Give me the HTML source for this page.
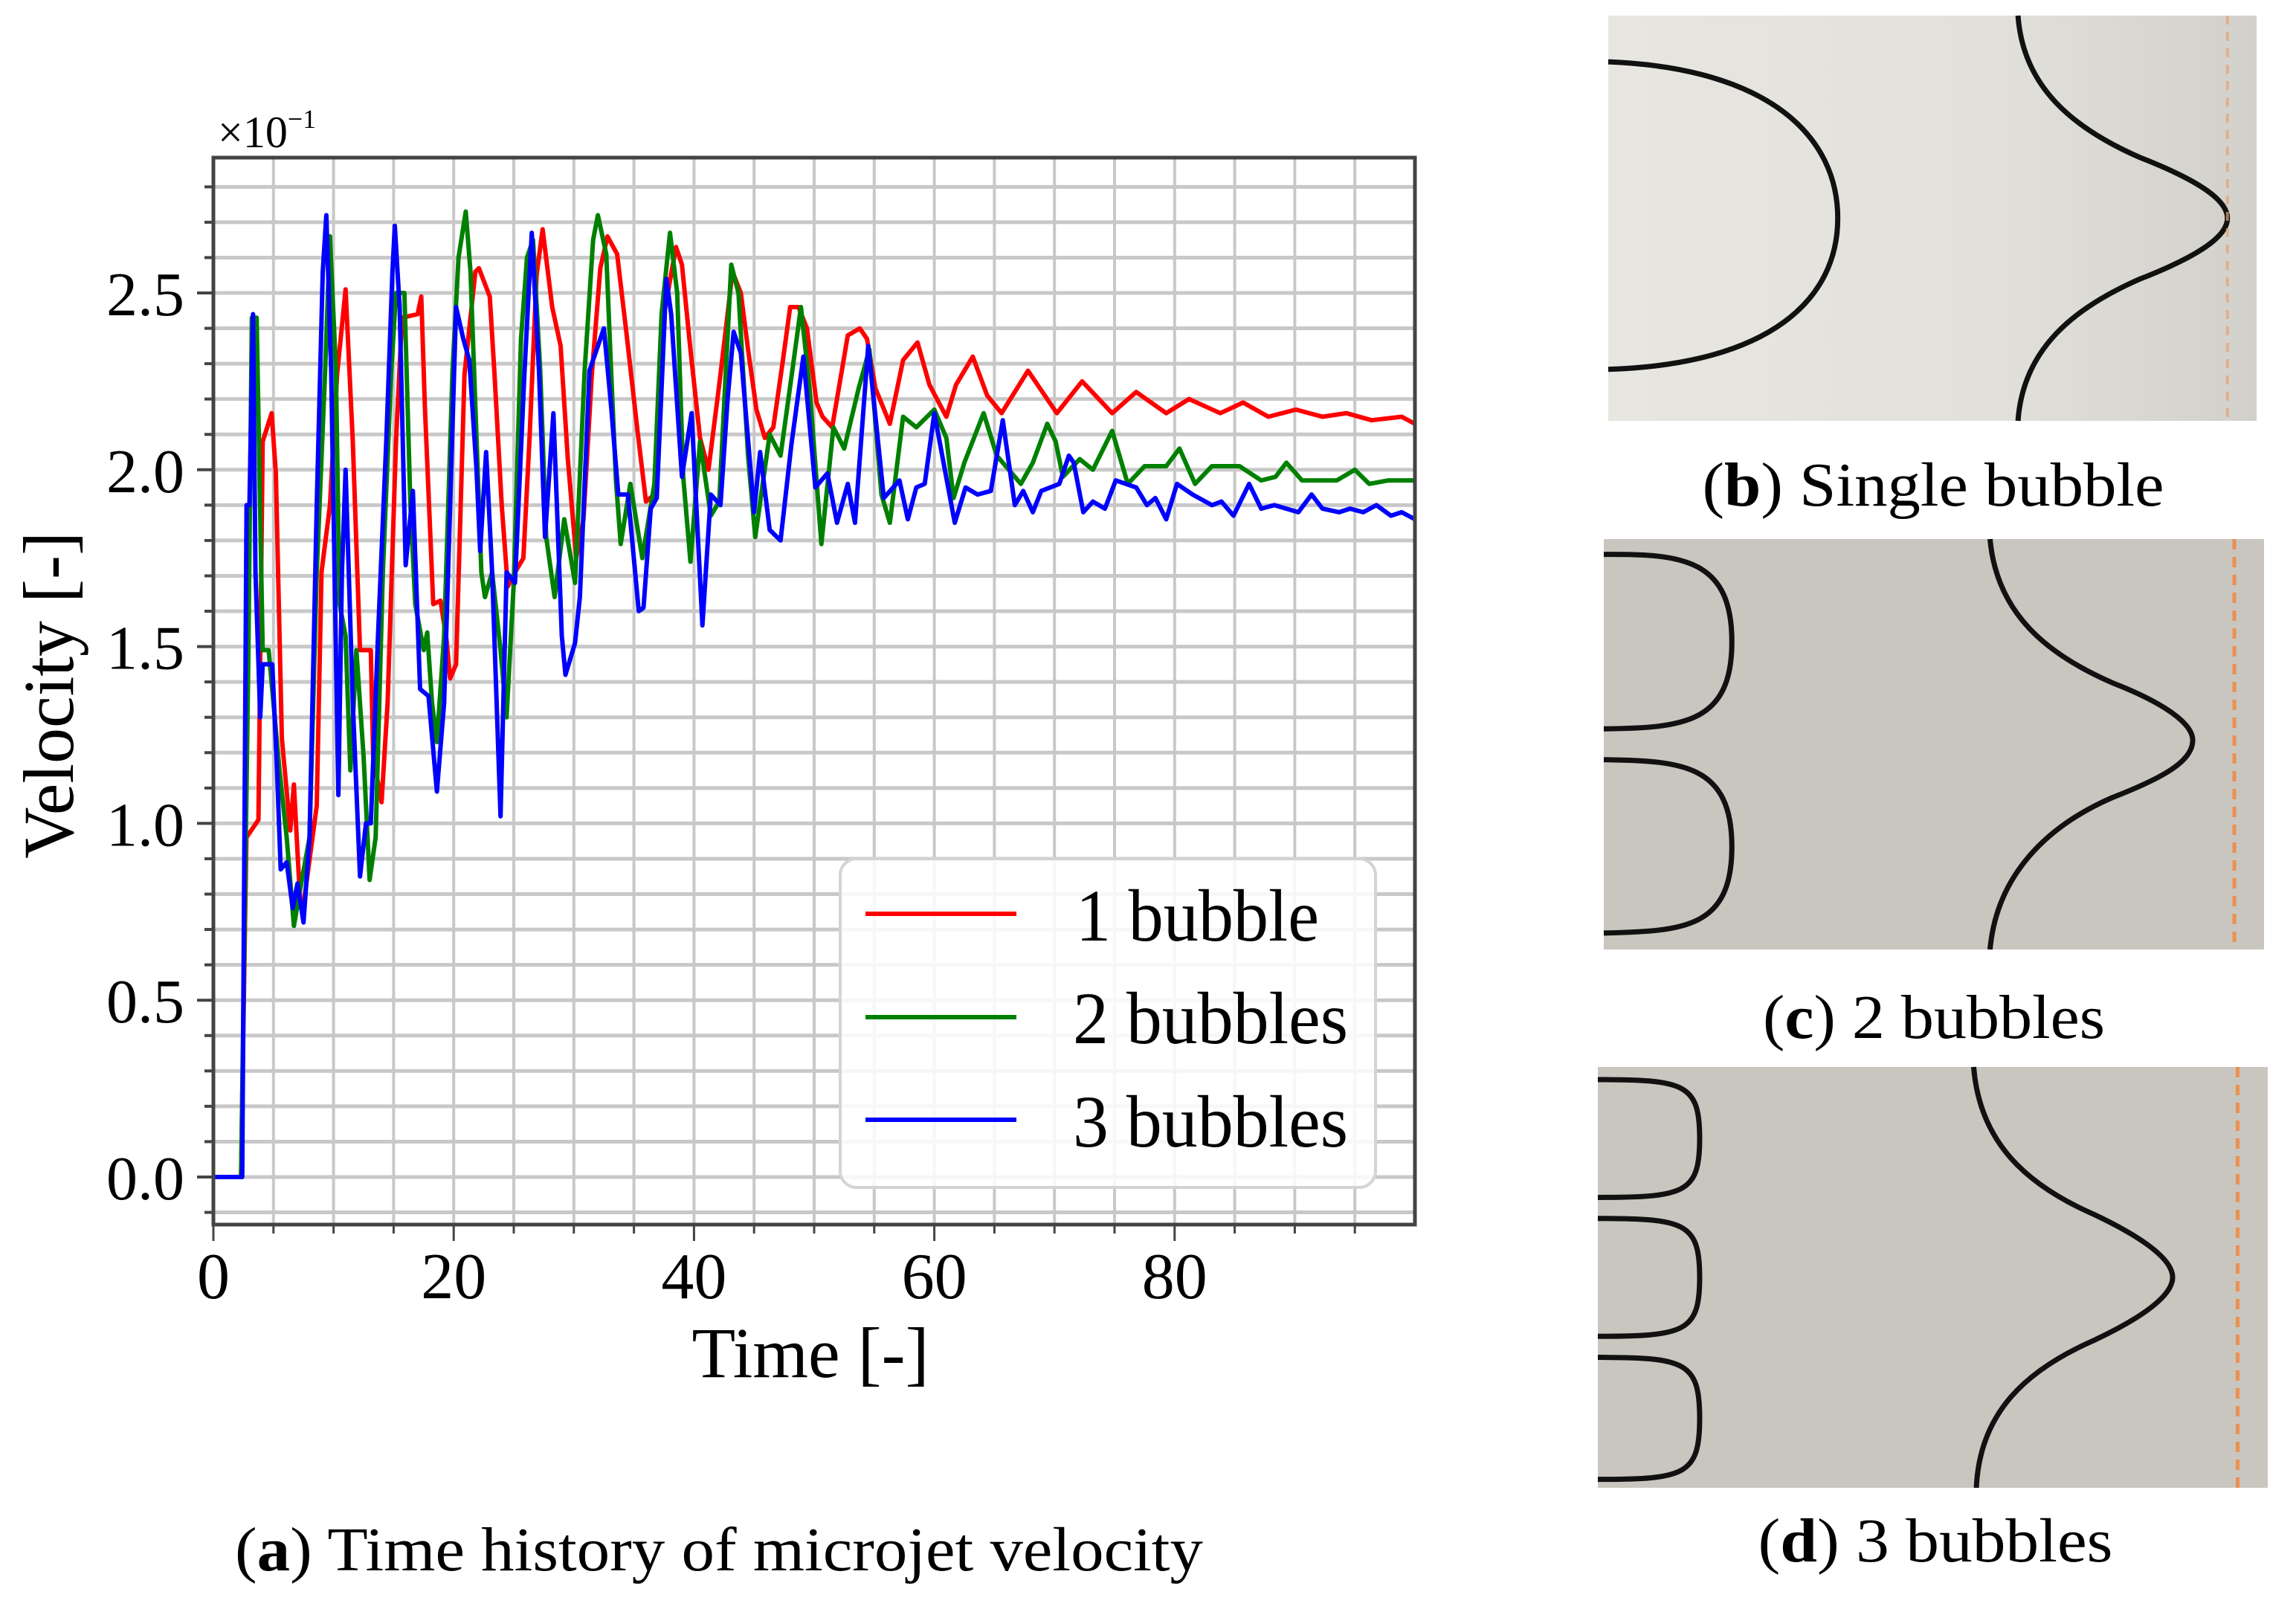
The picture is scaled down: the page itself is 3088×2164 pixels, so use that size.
<!DOCTYPE html>
<html><head><meta charset="utf-8"><style>
html,body{margin:0;padding:0;background:#fff;}
svg{display:block;}
text{font-family:"Liberation Serif",serif;fill:#000;}
</style></head><body>
<svg id="fig" width="3088" height="2164" viewBox="0 0 3088 2164" xmlns="http://www.w3.org/2000/svg">
<defs>
<linearGradient id="gb" x1="0" x2="1" y1="0" y2="0"><stop offset="0" stop-color="#e8e6e0"/><stop offset="0.6" stop-color="#e2e0da"/><stop offset="1" stop-color="#d2d0ca"/></linearGradient>
<clipPath id="plotclip"><rect x="287" y="212" width="1616" height="1435"/></clipPath>
</defs>
<g id="chart">
<rect x="287" y="212" width="1616" height="1435" fill="#fff"/>
<g id="grid"></g>
<g id="series" clip-path="url(#plotclip)"></g>
<g id="legend">
<rect x="1130" y="1155" width="720" height="442" rx="22" fill="#fff" fill-opacity="0.85" stroke="#d4d4d4" stroke-width="4"/>
<line x1="1164" y1="1229" x2="1367" y2="1229" stroke="#ff0000" stroke-width="6"/>
<text x="1447" y="1265" font-size="100" textLength="327" lengthAdjust="spacingAndGlyphs">1 bubble</text>
<line x1="1164" y1="1368" x2="1367" y2="1368" stroke="#008000" stroke-width="6"/>
<text x="1443" y="1403" font-size="100" textLength="370" lengthAdjust="spacingAndGlyphs">2 bubbles</text>
<line x1="1164" y1="1506" x2="1367" y2="1506" stroke="#0000ff" stroke-width="6"/>
<text x="1443" y="1542" font-size="100" textLength="370" lengthAdjust="spacingAndGlyphs">3 bubbles</text>
</g>
<rect x="287" y="212" width="1616" height="1435" fill="none" stroke="#444" stroke-width="5"/>
<g id="axes"></g>
<text x="293" y="198" font-size="60" fill="#222">×10<tspan dy="-26" font-size="36">−1</tspan></text>
<text transform="translate(98,935) rotate(-90)" text-anchor="middle" font-size="96">Velocity [-]</text>
<text x="1090" y="1852" text-anchor="middle" font-size="96">Time [-]</text>
</g>
<text x="967" y="2112" text-anchor="middle" font-size="84" textLength="1302" lengthAdjust="spacingAndGlyphs">(<tspan font-weight="bold">a</tspan>) Time history of microjet velocity</text>

<g>
<rect x="2163" y="21" width="872" height="545" fill="url(#gb)"/>
<g transform="translate(2163,21) scale(872,545)" fill="none" stroke="#111">
<path d="M0,0.114 C0.25,0.13 0.354,0.3 0.354,0.5 C0.354,0.7 0.25,0.86 0,0.873" stroke-width="7" vector-effect="non-scaling-stroke"/>
<path d="M0.632,0 C0.64,0.18 0.72,0.28 0.82,0.35 C0.9,0.4 0.955,0.45 0.955,0.5 C0.955,0.55 0.9,0.6 0.82,0.65 C0.72,0.72 0.64,0.82 0.632,1" stroke-width="7" vector-effect="non-scaling-stroke"/>
<line x1="0.955" y1="0" x2="0.955" y2="1" stroke="#e8a070" stroke-opacity="0.7" stroke-width="4" stroke-dasharray="12 10" vector-effect="non-scaling-stroke"/>
</g>
</g>
<text x="2600" y="680" text-anchor="middle" font-size="84" textLength="621" lengthAdjust="spacingAndGlyphs">(<tspan font-weight="bold">b</tspan>) Single bubble</text>

<g>
<rect x="2157" y="725" width="888" height="552" fill="#c9c6bf"/>
<g transform="translate(2157,725) scale(888,552)" fill="none" stroke="#111">
<path d="M0,0.0375 C0.12,0.035 0.194,0.05 0.194,0.25 C0.194,0.45 0.12,0.46 0,0.4625" stroke-width="7" vector-effect="non-scaling-stroke"/>
<path d="M0,0.5375 C0.12,0.54 0.194,0.55 0.194,0.75 C0.194,0.95 0.12,0.955 0,0.96" stroke-width="7" vector-effect="non-scaling-stroke"/>
<path d="M0.585,0 C0.595,0.18 0.67,0.28 0.77,0.35 C0.85,0.4 0.892,0.45 0.892,0.49 C0.892,0.54 0.85,0.58 0.77,0.63 C0.67,0.7 0.595,0.82 0.585,1" stroke-width="7" vector-effect="non-scaling-stroke"/>
<line x1="0.955" y1="0" x2="0.955" y2="1" stroke="#ec9050" stroke-width="5" stroke-dasharray="14 10" vector-effect="non-scaling-stroke"/>
</g>
</g>
<text x="2601" y="1396" text-anchor="middle" font-size="84" textLength="460" lengthAdjust="spacingAndGlyphs">(<tspan font-weight="bold">c</tspan>) 2 bubbles</text>

<g>
<rect x="2149" y="1435" width="901" height="566" fill="#c9c6bf"/>
<g transform="translate(2149,1435) scale(901,566)" fill="none" stroke="#111">
<path d="M0,0.03 C0.13,0.03 0.152,0.04 0.152,0.17 C0.152,0.3 0.13,0.31 0,0.31" stroke-width="7" vector-effect="non-scaling-stroke"/>
<path d="M0,0.36 C0.13,0.36 0.152,0.37 0.152,0.5 C0.152,0.63 0.13,0.64 0,0.64" stroke-width="7" vector-effect="non-scaling-stroke"/>
<path d="M0,0.69 C0.13,0.69 0.152,0.7 0.152,0.835 C0.152,0.97 0.13,0.98 0,0.98" stroke-width="7" vector-effect="non-scaling-stroke"/>
<path d="M0.561,0 C0.57,0.18 0.64,0.28 0.74,0.35 C0.82,0.41 0.858,0.46 0.858,0.5 C0.858,0.54 0.82,0.59 0.74,0.65 C0.64,0.72 0.57,0.82 0.565,1" stroke-width="7" vector-effect="non-scaling-stroke"/>
<line x1="0.955" y1="0" x2="0.955" y2="1" stroke="#ec9050" stroke-width="5" stroke-dasharray="14 10" vector-effect="non-scaling-stroke"/>
</g>
</g>
<text x="2603" y="2100" text-anchor="middle" font-size="84" textLength="477" lengthAdjust="spacingAndGlyphs">(<tspan font-weight="bold">d</tspan>) 3 bubbles</text>
</svg>
<script>
// ---- data (velocity in units of 1e-1) ----
const tRed = [0,2.3,2.75,3.75,4.1,4.85,5.2,5.7,6.4,6.7,7.2,7.5,8.6,9.0,9.7,10.3,11.0,11.6,12.2,13.1,13.3,14.0,14.5,15.2,15.7,17.0,17.3,17.6,18.3,18.9,19.4,19.7,20.2,20.9,21.8,22.1,23.0,23.4,24.0,24.5,25.1,25.8,26.3,26.9,27.4,28.2,28.9,29.5,30.2,30.8,31.5,32.2,32.8,33.6,34.4,35.3,36.0,36.7,37.5,38.5,39.0,39.7,40.5,41.2,42.1,42.8,43.2,43.9,44.5,45.2,45.9,46.6,47.4,48.0,48.7,49.4,50.2,50.7,51.5,52.3,52.8,53.8,54.4,55.1,56.3,57.4,58.6,59.6,61.0,61.8,63.2,64.4,65.6,67.8,70.2,72.3,74.8,76.8,79.3,81.2,83.8,85.7,87.8,90.1,92.3,94.3,96.4,98.9,100];
const vRed = [0,0,0.96,1.01,2.08,2.16,1.99,1.24,0.98,1.11,0.79,0.77,1.05,1.71,1.90,2.27,2.51,2.08,1.49,1.49,1.19,1.06,1.34,2.08,2.43,2.44,2.49,2.18,1.62,1.63,1.52,1.41,1.45,2.27,2.56,2.57,2.49,2.27,1.90,1.67,1.71,1.75,2.08,2.55,2.68,2.46,2.35,2.03,1.75,1.86,2.27,2.57,2.66,2.61,2.38,2.11,1.91,1.93,2.44,2.63,2.58,2.34,2.09,2.00,2.24,2.44,2.56,2.50,2.34,2.17,2.09,2.12,2.31,2.46,2.46,2.40,2.19,2.15,2.12,2.28,2.38,2.40,2.37,2.23,2.13,2.31,2.36,2.24,2.15,2.24,2.32,2.21,2.16,2.28,2.16,2.25,2.16,2.22,2.16,2.20,2.16,2.19,2.15,2.17,2.15,2.16,2.14,2.15,2.13];
const tGreen = [0,2.3,2.9,3.2,3.6,4.1,4.6,5.0,5.5,6.1,6.7,7.2,8.0,8.6,9.3,9.7,10.2,10.5,11.0,11.4,11.9,12.5,13.0,13.5,14.1,14.8,15.2,15.9,16.4,16.8,17.5,17.8,18.2,18.6,19.2,19.9,20.4,21.0,21.4,21.9,22.3,22.6,23.2,23.9,24.4,25.0,25.6,26.1,26.6,27.2,27.7,28.4,29.2,30.1,30.9,31.6,32.0,32.7,33.1,33.5,33.9,34.7,35.7,36.7,37.3,38.0,38.6,39.1,39.7,40.5,41.4,42.1,43.1,43.7,44.5,45.1,45.8,46.3,47.2,48.1,48.9,49.6,50.6,51.6,52.5,53.7,54.6,55.6,56.3,57.4,58.5,60.0,61.0,61.6,62.5,64.1,65.2,67.2,68.2,69.4,70.1,70.7,72.1,73.2,74.8,76.1,77.5,79.3,80.4,81.7,83.1,85.4,87.2,88.4,89.3,90.6,93.5,95.0,96.2,97.8,100];
const vGreen = [0,0,1.45,2.43,2.43,1.49,1.49,1.34,1.15,0.96,0.71,0.81,0.96,1.71,2.28,2.66,2.28,1.62,1.53,1.15,1.49,1.19,0.84,0.96,1.71,2.28,2.50,2.50,1.90,1.62,1.49,1.54,1.34,1.23,1.53,2.28,2.60,2.73,2.56,2.09,1.71,1.64,1.71,1.49,1.30,1.68,2.37,2.60,2.65,2.28,1.81,1.64,1.86,1.68,2.28,2.65,2.72,2.61,2.28,1.97,1.79,1.96,1.75,1.96,2.44,2.67,2.50,1.98,1.74,2.08,1.87,1.91,2.58,2.50,2.04,1.81,1.98,2.10,2.04,2.26,2.46,2.24,1.79,2.12,2.06,2.23,2.34,1.93,1.85,2.15,2.12,2.17,2.09,1.92,2.02,2.16,2.04,1.96,2.02,2.13,2.08,1.98,2.03,2.00,2.11,1.96,2.01,2.01,2.06,1.96,2.01,2.01,1.97,1.98,2.02,1.97,1.97,2.00,1.96,1.97,1.97];
const tBlue = [0,2.4,2.76,3.0,3.3,3.5,3.9,4.1,4.9,5.3,5.6,6.1,6.6,7.0,7.5,8.0,8.6,9.1,9.4,9.8,10.4,10.7,11.0,11.6,12.2,12.7,13.1,13.7,14.4,14.9,15.1,15.5,16.0,16.6,17.2,17.9,18.6,19.2,19.7,20.2,20.8,21.3,21.9,22.2,22.7,23.2,23.9,24.4,25.1,25.9,26.5,27.1,27.6,28.3,29.0,29.3,30.1,30.5,31.3,32.5,33.1,33.7,34.5,35.4,35.8,36.4,36.9,37.7,38.1,39.0,39.8,40.7,41.4,42.2,42.8,43.3,43.9,45.0,45.5,46.3,47.2,48.1,49.1,50.1,51.1,51.9,52.8,53.4,54.5,55.8,57.1,57.8,58.5,59.2,60.0,61.7,62.6,63.6,64.7,65.7,66.7,67.4,68.2,68.9,70.4,71.2,71.6,72.4,73.2,74.2,75.1,76.8,77.7,78.4,79.3,80.2,81.5,83.1,83.9,84.9,86.2,87.2,88.3,90.3,91.4,92.3,93.7,94.6,95.7,96.8,98.0,98.9,100];
const vBlue = [0,0,1.90,1.90,2.44,1.71,1.30,1.45,1.45,1.15,0.87,0.89,0.76,0.83,0.72,0.96,1.90,2.56,2.72,2.28,1.08,1.71,2.00,1.34,0.85,1.00,1.00,1.53,2.09,2.56,2.69,2.46,1.73,1.94,1.38,1.36,1.09,1.34,1.90,2.46,2.37,2.31,2.00,1.77,2.05,1.71,1.02,1.71,1.68,2.28,2.67,2.28,1.81,2.16,1.53,1.42,1.51,1.64,2.28,2.40,2.18,1.93,1.93,1.60,1.61,1.89,1.92,2.54,2.44,1.98,2.16,1.56,1.93,1.90,2.20,2.39,2.33,1.88,2.05,1.83,1.80,2.07,2.32,1.95,1.99,1.85,1.96,1.85,2.35,1.92,1.97,1.86,1.95,1.96,2.16,1.85,1.95,1.93,1.94,2.14,1.90,1.94,1.88,1.94,1.96,2.04,2.02,1.88,1.91,1.89,1.97,1.95,1.90,1.92,1.86,1.96,1.93,1.90,1.91,1.87,1.96,1.89,1.90,1.88,1.93,1.89,1.88,1.89,1.88,1.90,1.87,1.88,1.86];
const xTickLabels = ["0","20","40","60","80"];
const yTickLabels = ["0.0","0.5","1.0","1.5","2.0","2.5"];

// ---- axis functions ----
const X0 = 287, X1 = 1903, XMIN = 0, XMAX = 100;
const YZERO = 1583, YPX = 475.6;
function sx(t){ return X0 + (t - XMIN) / (XMAX - XMIN) * (X1 - X0); }
function sy(v){ return YZERO - v * YPX; }
const NS = "http://www.w3.org/2000/svg";
function mk(tag, attrs, parent){ const e = document.createElementNS(NS, tag); for (const k in attrs) e.setAttribute(k, attrs[k]); parent.appendChild(e); return e; }

const grid = document.getElementById('grid');
for (let t = 5; t < 100; t += 5) {
  const l = mk('line', {x1: sx(t), x2: sx(t), y1: 212, y2: 1647, stroke: '#c8c8c8', 'stroke-width': 4}, grid);
  
  
}
for (let i = -1; i <= 28; i++) {
  const v = i / 10;
  const l = mk('line', {x1: 287, x2: 1903, y1: sy(v), y2: sy(v), stroke: '#c8c8c8', 'stroke-width': 5}, grid);
  
  
}

const axes = document.getElementById('axes');
for (let t = 5; t < 100; t += 5) {
  const major = (t % 20 === 0);
  const tk = mk('line', {x1: sx(t), x2: sx(t), y1: 1647, y2: 1647 + (major ? 22 : 12), stroke: '#444', 'stroke-width': 3}, axes);
  
  
}
{ const tk = mk('line', {x1: sx(0), x2: sx(0), y1: 1647, y2: 1669, stroke: '#444', 'stroke-width': 3}, axes);
  
   }
xTickLabels.forEach(function(lab){
  const tx = mk('text', {x: sx(parseFloat(lab)), y: 1746, 'text-anchor': 'middle', 'font-size': 88}, axes);
  tx.textContent = lab;
  
  
});
for (let i = -1; i <= 28; i++) {
  const v = i / 10;
  const major = (i % 5 === 0);
  const tk = mk('line', {x1: 287 - (major ? 22 : 12), x2: 287, y1: sy(v), y2: sy(v), stroke: '#444', 'stroke-width': 4}, axes);
  
  
}
yTickLabels.forEach(function(lab){
  const tx = mk('text', {x: 248, y: sy(parseFloat(lab)) + 30, 'text-anchor': 'end', 'font-size': 84}, axes);
  tx.textContent = lab;
  
  
});

const series = document.getElementById('series');
function drawSeries(ts, vs, color, name){
  let d = '';
  for (let i = 0; i < ts.length; i++) d += (i ? 'L' : 'M') + sx(ts[i]).toFixed(1) + ',' + sy(vs[i]).toFixed(1);
  const p = mk('path', {d: d, fill: 'none', stroke: color, 'stroke-width': 6, 'stroke-linejoin': 'round'}, series);
  
  
}
drawSeries(tRed, vRed, '#ff0000', 'series-1-bubble');
drawSeries(tGreen, vGreen, '#008000', 'series-2-bubbles');
drawSeries(tBlue, vBlue, '#0000ff', 'series-3-bubbles');
</script>
</body></html>
